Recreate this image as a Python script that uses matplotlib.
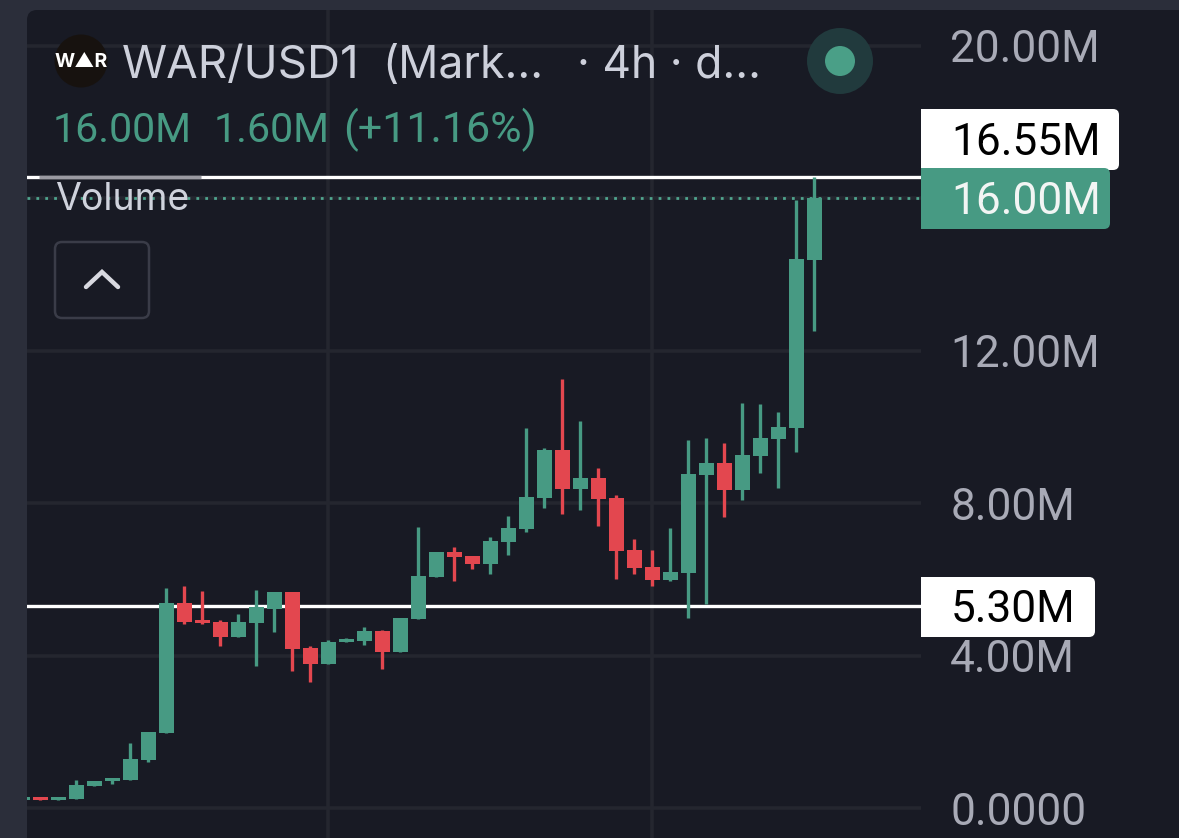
import matplotlib
matplotlib.use('Agg')
import matplotlib.pyplot as plt
from matplotlib.patches import FancyBboxPatch, Rectangle, Circle

W, H = 1179, 838

# candle values, millions
opens = [0.22, 0.29, 0.21, 0.24, 0.58, 0.71, 0.73, 1.26, 1.97, 5.38, 4.93, 4.88, 4.49, 4.86, 5.22,
         5.67, 4.20, 3.78, 4.36, 4.38, 4.65, 4.09, 4.96, 6.06, 6.72, 6.61, 6.40, 6.98, 7.32, 8.14,
         9.40, 8.37, 8.66, 8.14, 6.77, 6.33, 5.98, 6.17, 8.74, 9.06, 8.35, 9.24, 9.68, 9.97, 14.38]
highs = [0.29, 0.29, 0.29, 0.73, 0.72, 0.79, 1.70, 2.00, 5.77, 5.83, 5.70, 4.93, 5.09, 5.72, 5.67,
         5.67, 4.24, 4.40, 4.47, 4.75, 4.67, 4.99, 7.38, 6.72, 6.85, 6.61, 7.11, 7.66, 9.97, 9.45,
         11.26, 10.16, 8.92, 8.22, 7.06, 6.77, 7.35, 9.66, 9.71, 9.58, 10.63, 10.60, 10.39, 15.96, 16.55]
lows = [0.22, 0.21, 0.21, 0.24, 0.58, 0.64, 0.73, 1.21, 1.97, 4.83, 4.84, 4.25, 4.49, 3.73, 4.62,
        3.60, 3.31, 3.78, 4.36, 4.28, 3.65, 4.09, 4.96, 6.06, 5.96, 6.27, 6.14, 6.64, 7.24, 7.87,
        7.72, 7.82, 7.40, 6.01, 6.14, 5.83, 5.96, 4.99, 5.35, 7.64, 8.08, 8.79, 8.40, 9.34, 12.52]
closes = [0.29, 0.21, 0.29, 0.60, 0.71, 0.79, 1.29, 2.00, 5.38, 4.88, 4.86, 4.49, 4.88, 5.28, 5.67,
          4.17, 3.78, 4.36, 4.44, 4.65, 4.09, 4.99, 6.09, 6.72, 6.59, 6.40, 7.01, 7.35, 8.16, 9.40,
          8.37, 8.66, 8.11, 6.75, 6.30, 5.98, 6.19, 8.77, 9.06, 8.35, 9.26, 9.71, 10.00, 14.41, 16.00]

tick_vals = [0, 4, 8, 12, 16, 20]
tick_labels = ['0.0000', '4.00M', '8.00M', '12.00M', '', '20.00M']
level_high = 16.55
level_low = 5.30
last_price = 16.00
vgrid_idx = [17, 35]

GREEN = '#479a83'
RED = '#e3474f'
PANEL = '#181a24'
OUTER = '#2b2e3a'
GRID = '#24262f'
NUM_SIZE = 31.8

plt.rcParams['font.family'] = ['Inter', 'DejaVu Sans']
NUM_FONT = ['Roboto', 'DejaVu Sans']   # digits all one width, like the app

fig = plt.figure(figsize=(W / 100, H / 100), dpi=100, facecolor=OUTER)


def px_axes(z):
    a = fig.add_axes([0, 0, 1, 1], zorder=z)
    a.set_xlim(0, W)
    a.set_ylim(H, 0)
    a.axis('off')
    a.patch.set_alpha(0)
    return a


bg = px_axes(0)
bg.add_patch(FancyBboxPatch((27, 10), W, H, boxstyle='round,pad=0,rounding_size=10', fc=PANEL, ec='none'))

# chart area: x 27..921 px, one candle every 18 px, 38.1 px per million
ax = fig.add_axes([27 / W, 0, (921 - 27) / W, (838 - 10) / H], zorder=1)
ax.patch.set_alpha(0)
ax.set_xlim((27 - 22.3) / 18, (921 - 22.3) / 18)
ax.set_ylim(-30 / 38.1, 798 / 38.1)
for s in ax.spines.values():
    s.set_visible(False)
ax.set_xticks([])
ax.yaxis.tick_right()
ax.set_yticks(tick_vals)
ax.set_yticklabels(tick_labels, fontsize=NUM_SIZE, color='#a8aab6', family=NUM_FONT)
ax.tick_params(axis='y', length=0, pad=21)

for v in tick_vals:
    ax.axhline(v, color=GRID, lw=2.6, zorder=1)
for i in vgrid_idx:
    ax.axvline(i, color=GRID, lw=2.6, zorder=1)

ax.axhline(level_high, color='white', lw=2.4, zorder=2)
ax.plot([0.9, 9.9], [level_high, level_high], color='#9a9aa2', lw=2.4, zorder=2.1, solid_capstyle='butt')
ax.axhline(level_low, color='white', lw=2.4, zorder=2)
ax.axhline(last_price, color='#4fa58e', lw=2, ls=(0, (1, 2.2)), zorder=2)

for i in range(len(opens)):
    c = GREEN if closes[i] >= opens[i] else RED
    bottom = min(opens[i], closes[i])
    ax.vlines(i, lows[i], highs[i], color=c, lw=2.4, zorder=3)
    ax.bar(i, abs(closes[i] - opens[i]), bottom=bottom, width=15 / 18, color=c, lw=0, zorder=3)

ui = px_axes(2)


def tag(x1, y1, y2, color):
    # square on the axis side, rounded on the outer side
    ui.add_patch(FancyBboxPatch((921, y1), x1 - 921, y2 - y1, boxstyle='round,pad=0,rounding_size=6', fc=color, ec='none'))
    ui.add_patch(Rectangle((921, y1), 20, y2 - y1, fc=color, ec='none'))


tag(1119, 109, 170, 'white')
ui.text(951, 155, '16.55M', fontsize=NUM_SIZE, color='black', va='baseline', family=NUM_FONT)
tag(1110, 168, 229, GREEN)
ui.text(951, 214, '16.00M', fontsize=NUM_SIZE, color='#f2f5f4', va='baseline', family=NUM_FONT)
tag(1095, 577, 637, 'white')
ui.text(951, 622, '5.30M', fontsize=NUM_SIZE, color='black', va='baseline', family=NUM_FONT)

# legend header
ui.add_patch(Circle((81, 61), 26.5, fc='#17120f', ec='none'))
ui.text(81, 62, 'W▲R', fontsize=14, fontweight='bold', color='white', ha='center', va='center')
TITLE = '#cdd0db'
ui.text(122, 78, 'WAR/USD1', fontsize=33, color=TITLE, va='baseline')
ui.text(382, 78, '(Mark...', fontsize=32, color=TITLE, va='baseline')
ui.text(577, 78, '· 4h · d...', fontsize=32, color=TITLE, va='baseline')
ui.text(53, 142, '16.00M', fontsize=29.6, color=GREEN, va='baseline', family=NUM_FONT)
ui.text(214, 142, '1.60M', fontsize=29.6, color=GREEN, va='baseline', family=NUM_FONT)
ui.text(343, 142, '(+11.16%)', fontsize=31, color=GREEN, va='baseline', family=NUM_FONT)
ui.text(55, 210, 'Volume', fontsize=27, color='#cfd2dc', va='baseline')

ui.add_patch(FancyBboxPatch((55, 242), 94, 76, boxstyle='round,pad=0,rounding_size=7', fc='none', ec='#3a3c48', lw=1.8))
ui.plot([86, 102, 118], [287, 272, 287], color='#d8d9e0', lw=3.2, solid_capstyle='round', solid_joinstyle='miter')

ui.add_patch(Circle((840, 61), 33, fc='#213a3d', ec='none'))
ui.add_patch(Circle((840, 61), 15, fc='#4a9f87', ec='none'))

fig.savefig('out.png', dpi=100, facecolor=fig.get_facecolor())
